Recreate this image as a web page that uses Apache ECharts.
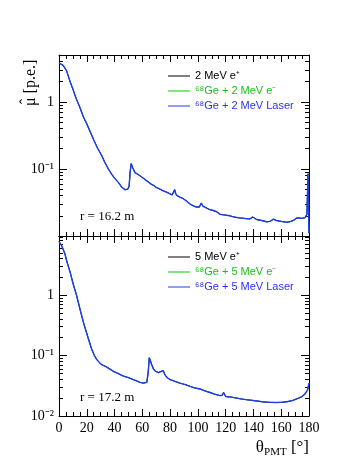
<!DOCTYPE html>
<html>
<head>
<meta charset="utf-8">
<script src="https://cdn.jsdelivr.net/npm/echarts@6/dist/echarts.min.js"></script>
<style>
html, body { margin: 0; padding: 0; background: #fff; }
#chart { width: 349px; height: 472px; }
</style>
</head>
<body>
<div id="chart"></div>
<script>
// theta_PMT bins (deg) and mean charge (p.e.), upper pad r = 16.2 m
// the three samples sit on top of each other, so one curve per pad
var angleTop = [0, 1, 3, 5.5, 8, 10, 12.5, 15, 17.5, 20, 23.5, 25, 28, 31, 33, 35.5, 38, 40, 43, 45,
  47.5, 49.5, 50.5, 51.2, 52, 53, 54.7, 56.5, 58.3, 61, 63, 66, 68, 70, 72.7, 75, 77.5, 79.5, 81.5, 82.5,
  83.3, 84, 85, 87, 89.5, 92, 94.3, 97, 99, 101, 102.5, 103.5, 105, 108, 111, 113.5, 116, 120, 123, 127,
  130, 134, 137.5, 139.5, 140.5, 142.3, 146, 149.5, 152, 154.3, 156.7, 160, 164, 167, 169, 171, 172, 173,
  174.7, 176, 177.2, 178.5, 179.3, 180];
var muTop = [3.8, 3.75, 3.5, 2.9, 2.0, 1.55, 1.1, 0.83, 0.6, 0.47, 0.32, 0.27, 0.2, 0.155, 0.125, 0.1, 0.083, 0.073, 0.062, 0.054,
  0.049, 0.05, 0.055, 0.09, 0.12, 0.105, 0.088, 0.084, 0.079, 0.072, 0.067, 0.06, 0.057, 0.053, 0.05, 0.047, 0.045, 0.043, 0.041, 0.042,
  0.049, 0.043, 0.04, 0.038, 0.036, 0.033, 0.03, 0.028, 0.027, 0.027, 0.031, 0.028, 0.027, 0.025, 0.024, 0.023, 0.021, 0.0205, 0.02, 0.019,
  0.0186, 0.0182, 0.018, 0.0192, 0.0185, 0.0176, 0.017, 0.0163, 0.0165, 0.0178, 0.017, 0.0165, 0.016, 0.0165, 0.0172, 0.0185, 0.0175, 0.0186,
  0.0183, 0.019, 0.0188, 0.021, 0.085, 0.011];

// lower pad r = 17.2 m
var angleBottom = [0, 2, 4.3, 5.5, 8, 10.3, 12.7, 15, 17.5, 21, 23.5, 25.5, 27, 29, 31, 33.5, 34.3, 35, 37, 39,
  42, 46, 50, 53.5, 56, 58.3, 59.5, 60.7, 62, 63.2, 64.2, 65, 65.8, 66.7, 68, 69.5, 71.5, 73, 74.2, 75.1,
  76.3, 78, 80, 84, 87, 91, 94.3, 98, 101.5, 105, 108.7, 112, 115.9, 117.5, 118.5, 120, 124, 128, 132, 136,
  140, 144, 148, 152, 156, 160, 164, 168, 172, 175, 177, 179, 180];
var muBottom = [7.7, 6.5, 4.8, 3.7, 2.4, 1.5, 0.98, 0.6, 0.36, 0.195, 0.128, 0.1, 0.087, 0.077, 0.07, 0.066, 0.07, 0.063, 0.059, 0.055,
  0.051, 0.046, 0.043, 0.04, 0.038, 0.036, 0.038, 0.035, 0.037, 0.036, 0.052, 0.092, 0.082, 0.071, 0.06, 0.055, 0.052, 0.054, 0.057, 0.056,
  0.048, 0.043, 0.04, 0.037, 0.035, 0.033, 0.031, 0.029, 0.028, 0.026, 0.0245, 0.023, 0.0217, 0.022, 0.0245, 0.021, 0.0205, 0.0198, 0.019, 0.0185,
  0.018, 0.0175, 0.017, 0.0168, 0.0167, 0.0168, 0.0172, 0.018, 0.0195, 0.021, 0.023, 0.027, 0.035];

var namesTop = ["2 MeV e\u207A", "\u2076\u2078Ge + 2 MeV e\u207B", "\u2076\u2078Ge + 2 MeV Laser"];
var namesBottom = ["5 MeV e\u207A", "\u2076\u2078Ge + 5 MeV e\u207B", "\u2076\u2078Ge + 5 MeV Laser"];
var lineColors = ["#000000", "#00cc00", "#2238f0"];
var textColors = ["#000000", "#18c018", "#2a30f0"];

var decadesTop = [0.1, 1];
var decadesBottom = [0.01, 0.1, 1];
var minorValues = [0.02, 0.03, 0.04, 0.05, 0.06, 0.07, 0.08, 0.09,
  0.2, 0.3, 0.4, 0.5, 0.6, 0.7, 0.8, 0.9, 2, 3, 4, 5, 6, 7, 8, 9];
var decadeText = { "0.01": "10\u207B\u00B2", "0.1": "10\u207B\u00B9", "1": "1" };

var serif = "Liberation Serif";
var yRange = [[0.01, 5], [0.01, 9.5]];

function pairs(xs, ys) {
  return xs.map(function (x, i) { return [x, ys[i]]; });
}

function xAx(grid, pos, labels) {
  return {
    type: "value", gridIndex: grid, position: pos, min: 0, max: 180, interval: 20,
    axisLine: { show: true, lineStyle: { color: "#000", width: 1 } },
    axisTick: { show: true, inside: true, length: 7, lineStyle: { color: "#000" } },
    minorTick: { show: true, splitNumber: 4, length: 4, lineStyle: { color: "#000" } },
    axisLabel: { show: labels, color: "#000", fontFamily: serif, fontSize: 14, margin: 5 },
    splitLine: { show: false }, minorSplitLine: { show: false }
  };
}

function yAx(grid, pos, kind) {
  var r = yRange[grid];
  var dec = grid === 0 ? decadesTop : decadesBottom;
  var ax = {
    type: "log", logBase: 10, gridIndex: grid, position: pos, min: r[0], max: r[1],
    axisLine: { show: kind === "major", lineStyle: { color: "#000", width: 1 } },
    splitLine: { show: false },
    axisLabel: { show: false },
    axisTick: { show: true, inside: true, lineStyle: { color: "#000" } }
  };
  if (kind === "major") {
    ax.axisTick.length = 8;
    ax.axisTick.customValues = dec;
    if (pos === "left") {
      ax.axisLabel = {
        show: true, customValues: dec, color: "#000", fontFamily: serif, fontSize: 14, margin: 5,
        formatter: function (v) { return decadeText[String(+v.toPrecision(3))] || ""; }
      };
    }
  } else {
    ax.axisTick.length = 4;
    ax.axisTick.customValues = minorValues;
  }
  return ax;
}

function lines(grid, names, xs, ys) {
  return names.map(function (n, i) {
    return {
      name: n, type: "line", xAxisIndex: grid * 2, yAxisIndex: grid * 4,
      data: pairs(xs, ys), showSymbol: false, symbol: "none", animation: false,
      lineStyle: { color: lineColors[i], width: i === 2 ? 1.4 : 0.8 }, itemStyle: { color: lineColors[i] }
    };
  });
}

function legendFor(names, top) {
  return {
    orient: "vertical", left: 163, top: top, icon: "rect", itemWidth: 22, itemHeight: 1, itemGap: 1,
    selectedMode: false,
    textStyle: { fontFamily: "Liberation Sans", fontSize: 11, lineHeight: 14 },
    data: names.map(function (n, i) {
      return {
        name: n, textStyle: { color: textColors[i] },
        itemStyle: { color: lineColors[i], borderWidth: 0 },
        lineStyle: { color: lineColors[i], width: 1 }
      };
    })
  };
}

var myChart = echarts.init(document.getElementById("chart"), null, { renderer: "canvas" });
myChart.setOption({
  backgroundColor: "#ffffff",
  animation: false,
  grid: [
    { left: 59, top: 55, width: 250, height: 181, outerBoundsMode: "none" },
    { left: 59, top: 236, width: 250, height: 180, outerBoundsMode: "none" }
  ],
  legend: [legendFor(namesTop, 64), legendFor(namesBottom, 245)],
  xAxis: [xAx(0, "bottom", false), xAx(0, "top", false), xAx(1, "bottom", true), xAx(1, "top", false)],
  yAxis: [
    yAx(0, "left", "major"), yAx(0, "left", "minor"), yAx(0, "right", "major"), yAx(0, "right", "minor"),
    yAx(1, "left", "major"), yAx(1, "left", "minor"), yAx(1, "right", "major"), yAx(1, "right", "minor")
  ],
  graphic: [
    // y title, drawn bottom-to-top; the hat is a separate glyph over the mu
    { type: "group", x: 31, y: 106, rotation: Math.PI / 2, children: [
      { type: "text", x: 0, y: 0,
        style: { text: "\u03BC [p.e.]", fontFamily: serif, fontSize: 16, fill: "#000", align: "left", verticalAlign: "middle" } },
      { type: "text", x: 4.5, y: -4,
        style: { text: "\u02C6", fontFamily: serif, fontSize: 16, fill: "#000", align: "center", verticalAlign: "middle" } }
    ] },
    { type: "text", x: 80, y: 217,
      style: { text: "r = 16.2 m", fontFamily: serif, fontSize: 13, fill: "#000", verticalAlign: "middle" } },
    { type: "text", x: 80, y: 398,
      style: { text: "r = 17.2 m", fontFamily: serif, fontSize: 13, fill: "#000", verticalAlign: "middle" } },
    { type: "text", x: 309, y: 448,
      style: {
        text: "{a|\u03B8}{s|PMT}{a| [\u00B0]}", align: "right", verticalAlign: "middle", fill: "#000",
        rich: {
          a: { fontFamily: serif, fontSize: 17, fill: "#000" },
          s: { fontFamily: serif, fontSize: 11, fill: "#000", padding: [8, 0, 0, 0] }
        }
      } }
  ],
  series: lines(0, namesTop, angleTop, muTop).concat(lines(1, namesBottom, angleBottom, muBottom))
});
</script>
</body>
</html>
